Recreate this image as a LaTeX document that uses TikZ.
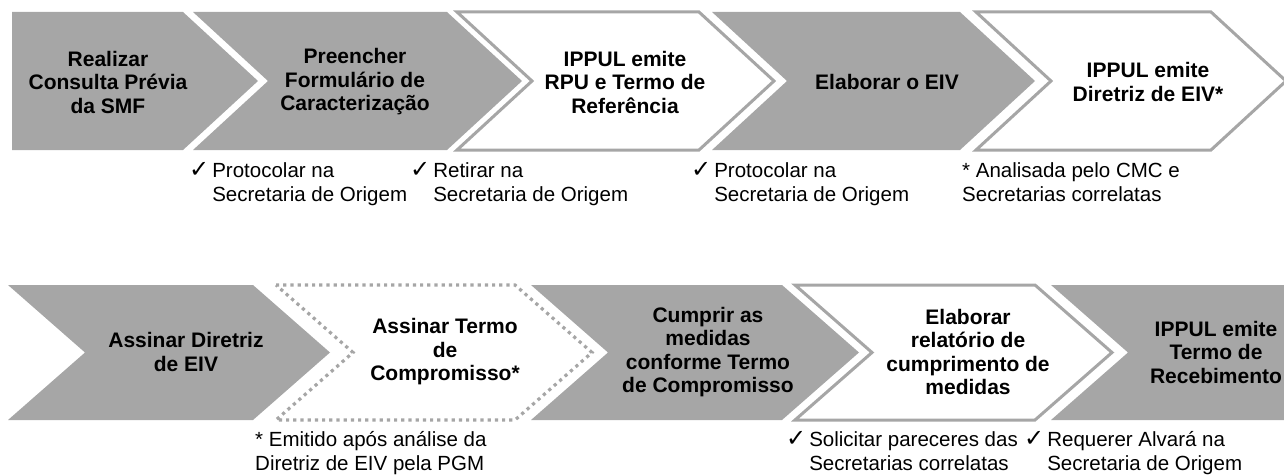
\documentclass[tikz,border=0pt]{standalone}
\usepackage{fontspec}
\setmainfont{Liberation Sans}
\newfontfamily\symfont{DejaVu Sans}
\newcommand{\chk}{{\symfont\fontsize{24}{24}\selectfont ✓}}
\definecolor{stepgray}{HTML}{A6A6A6}
\begin{document}
\begin{tikzpicture}[x=1pt,y=-1pt,line join=miter,
	grayarrow/.style={fill=stepgray,draw=none},
	linearrow/.style={fill=white,draw=stepgray,line width=3pt},
	dotarrow/.style={fill=white,draw=stepgray,line width=3.2pt,dash pattern=on 3.2pt off 4pt},
	steptext/.style={font=\fontsize{21}{23.5}\selectfont\bfseries,align=center,inner sep=0pt},
	note/.style={font=\fontsize{20.5}{24.5}\selectfont,anchor=base west,inner sep=0pt}]
	\useasboundingbox (0,0) rectangle (1284,476);
	\clip (0,0) rectangle (1284,476);

	% first row
	\fill[stepgray] (12,12)--(183,12)--(258,81)--(183,150)--(12,150)--cycle;
	\foreach \l/\r/\s in {193/447/grayarrow,457/699/linearrow,712/960/grayarrow,976/1211/linearrow}
		\draw[\s] (\l,12)--(\r,12)--(\r+75,81)--(\r,150)--(\l,150)--(\l+75,81)--cycle;

	\node[steptext] (t1) at (108,82) {Realizar\\Consulta Prévia\\da SMF};
	\node[steptext] (t2) at (355,82) {Preencher\\Formulário de\\Caracterização};
	\node[steptext] (t3) at (625,82) {IPPUL emite\\RPU e Termo de\\Referência};
	\node[steptext] (t4) at (887,82) {Elaborar o EIV};
	\node[steptext] (t5) at (1148,82) {IPPUL emite\\Diretriz de EIV*};

	\node[note] (n1) at (189,177) {\begin{tabular}[t]{@{}l@{\hspace{3pt}}l@{}}\chk & Protocolar na\\ & Secretaria de Origem\end{tabular}};
	\node[note] (n2) at (410,177) {\begin{tabular}[t]{@{}l@{\hspace{3pt}}l@{}}\chk & Retirar na\\ & Secretaria de Origem\end{tabular}};
	\node[note] (n3) at (691,177) {\begin{tabular}[t]{@{}l@{\hspace{3pt}}l@{}}\chk & Protocolar na\\ & Secretaria de Origem\end{tabular}};
	\node[note] (n4) at (962,177) {\begin{tabular}[t]{@{}l@{}}* Analisada pelo CMC e\\Secretarias correlatas\end{tabular}};

	% second row
	\foreach \l/\r/\s in {8/253/grayarrow,276/515/dotarrow,531/782/grayarrow,795/1035/linearrow,1051/1320/grayarrow}
		\draw[\s] (\l,285)--(\r,285)--(\r+77,352.5)--(\r,420)--(\l,420)--(\l+77,352.5)--cycle;

	\node[steptext] (t6) at (186,352) {Assinar Diretriz\\de EIV};
	\node[steptext] (t7) at (445,352) {Assinar Termo\\de\\Compromisso*};
	\node[steptext] (t8) at (708,352) {Cumprir as\\medidas\\conforme Termo\\de Compromisso};
	\node[steptext] (t9) at (968,352) {Elaborar\\relatório de\\cumprimento de\\medidas};
	\node[steptext] (t10) at (1216,352) {IPPUL emite\\Termo de\\Recebimento};

	\node[note] (n5) at (255,446) {\begin{tabular}[t]{@{}l@{}}* Emitido após análise da\\Diretriz de EIV pela PGM\end{tabular}};
	\node[note] (n6) at (786,446) {\begin{tabular}[t]{@{}l@{\hspace{3pt}}l@{}}\chk & Solicitar pareceres das\\ & Secretarias correlatas\end{tabular}};
	\node[note] (n7) at (1024,446) {\begin{tabular}[t]{@{}l@{\hspace{3pt}}l@{}}\chk & Requerer Alvará na\\ & Secretaria de Origem\end{tabular}};
\end{tikzpicture}
\end{document}
